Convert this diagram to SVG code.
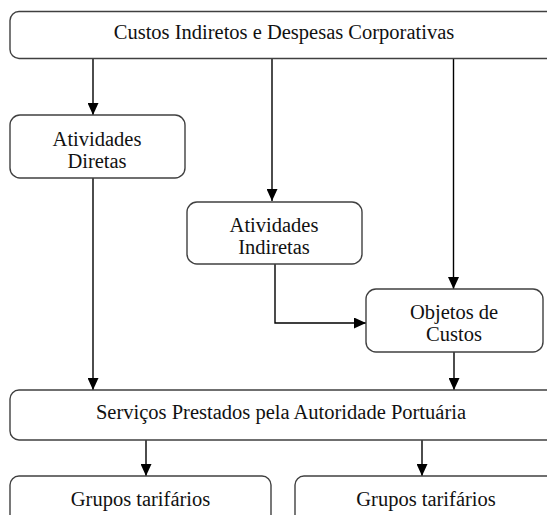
<svg xmlns="http://www.w3.org/2000/svg" width="547" height="515" viewBox="0 0 547 515">
<style>
.box{fill:#fff;stroke:#404040;stroke-width:1.4}
.t{font-family:"Liberation Serif","Times New Roman",serif;font-size:20.5px;fill:#111;text-anchor:middle}
.c{fill:none;stroke:#000;stroke-width:1.4}
</style>
<defs>
<marker id="ah" markerUnits="userSpaceOnUse" markerWidth="12" markerHeight="11" refX="12" refY="5.5" orient="auto">
<path d="M0,0 L12,5.5 L0,11 Z" fill="#000"/>
</marker>
</defs>
<rect width="547" height="515" fill="#fff"/>
<g id="connectors">
<line class="c" x1="93" y1="58" x2="93" y2="115" marker-end="url(#ah)"/>
<line class="c" x1="272" y1="58" x2="272" y2="201" marker-end="url(#ah)"/>
<line class="c" x1="453.5" y1="58" x2="453.5" y2="289" marker-end="url(#ah)"/>
<line class="c" x1="93" y1="178" x2="93" y2="390" marker-end="url(#ah)"/>
<polyline class="c" points="275,264 275,323 366,323" marker-end="url(#ah)"/>
<line class="c" x1="454" y1="352" x2="454" y2="390" marker-end="url(#ah)"/>
<line class="c" x1="146" y1="440" x2="146" y2="476" marker-end="url(#ah)"/>
<line class="c" x1="422" y1="440" x2="422" y2="476" marker-end="url(#ah)"/>
</g>
<g id="custos">
<rect class="box" x="10" y="11.5" width="545" height="47" rx="9"/>
<text class="t" x="284" y="39">Custos Indiretos e Despesas Corporativas</text>
</g>
<g id="diretas">
<rect class="box" x="10" y="115" width="175" height="63" rx="10"/>
<text class="t" x="97" y="146">Atividades</text>
<text class="t" x="97" y="168">Diretas</text>
</g>
<g id="indiretas">
<rect class="box" x="187" y="202" width="175" height="62" rx="10"/>
<text class="t" x="274" y="232">Atividades</text>
<text class="t" x="274" y="254">Indiretas</text>
</g>
<g id="objetos">
<rect class="box" x="366" y="289" width="177" height="63" rx="10"/>
<text class="t" x="454" y="319">Objetos de</text>
<text class="t" x="454" y="341">Custos</text>
</g>
<g id="servicos">
<rect class="box" x="10" y="390" width="545" height="50" rx="9"/>
<text class="t" x="281" y="419">Serviços Prestados pela Autoridade Portuária</text>
</g>
<g id="grupos1">
<rect class="box" x="10" y="476" width="261" height="60" rx="9"/>
<text class="t" x="140.5" y="506">Grupos tarifários</text>
</g>
<g id="grupos2">
<rect class="box" x="295" y="476" width="262" height="60" rx="9"/>
<text class="t" x="426" y="506">Grupos tarifários</text>
</g>
</svg>
